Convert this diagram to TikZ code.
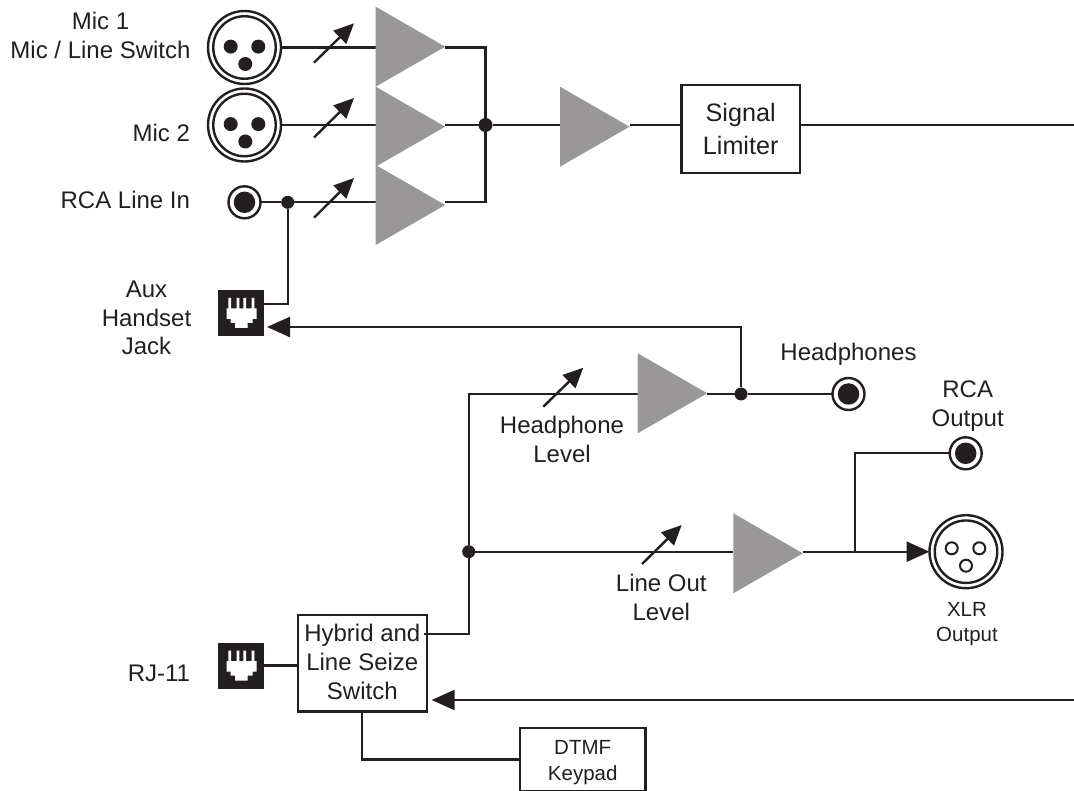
\documentclass[tikz,border=0pt]{standalone}
\usepackage{fontspec}
\setmainfont{Liberation Sans}
\usetikzlibrary{arrows.meta,calc}
\definecolor{ink}{HTML}{231F20}
\definecolor{ampgray}{HTML}{999797}
\tikzset{
  x=1pt,y=-1pt,
  wire/.style={draw=ink,line width=2.4pt},
  lab/.style={text=ink,inner sep=0pt,outer sep=0pt,align=center,anchor=base,font=\fontsize{24}{28.8}\selectfont},
  labr/.style={lab,anchor=base east},
  small/.style={lab,font=\fontsize{20.5}{25}\selectfont},
  dtmflab/.style={lab,font=\fontsize{20.5}{26}\selectfont},
  sigfont/.style={lab,font=\fontsize{25.2}{33}\selectfont},
  boxnode/.style={draw=ink,line width=2.4pt,fill=white,inner sep=0pt,outer sep=0pt,rectangle},
  dotnode/.style={circle,fill=ink,draw=none,inner sep=0pt,outer sep=0pt,minimum size=13pt},
  ring/.style={circle,draw=ink,line width=2.4pt,fill=white,inner sep=0pt,outer sep=0pt},
  inring/.style={circle,draw=ink,line width=2.4pt,inner sep=0pt,minimum size=62.5pt},
  pin/.style={circle,fill=ink,draw=none,inner sep=0pt,minimum size=14pt},
  hpin/.style={circle,draw=ink,line width=2pt,fill=white,inner sep=0pt,minimum size=12pt},
  disk/.style={circle,fill=ink,draw=none,inner sep=0pt,minimum size=21.5pt},
  jackbox/.style={rectangle,fill=ink,draw=none,inner sep=0pt,outer sep=0pt,minimum size=46pt},
  arrowline/.style={wire,-{Triangle[length=23pt,width=20pt]}},
  level/.style={wire,-{Triangle[length=20pt,width=18pt]}},
}
% name, x, mid y, wire y
\newcommand{\ampsym}[4]{%
  \fill[ampgray] (#2,#3-40) -- (#2,#3+40) -- (#2+69.5,#3) -- cycle;
}
% name, x, y
\newcommand{\xlrsolid}[3]{%
  \node[ring,minimum size=73pt] (#1) at (#2,#3) {};
  \node[inring] (#1-i) at (#2,#3) {};
  \node[pin] (#1-a) at ($(#1)+(-13.8,-0.9)$) {};
  \node[pin] (#1-b) at ($(#1)+(13.8,-0.9)$) {};
  \node[pin] (#1-c) at ($(#1)+(0.8,16.5)$) {};
}
\newcommand{\rcasym}[3]{%
  \node[ring,minimum size=32pt] (#1) at (#2,#3) {};
  \node[disk] (#1-d) at (#2,#3) {};
}
% name, centre x, centre y
\newcommand{\jacksym}[3]{%
  \node[jackbox] (#1) at (#2,#3) {};
  \begin{scope}[shift={(#2-23,#3-23)}]
    \fill[white] (10,8) -- (10,18.5) -- (8.3,18.5) -- (8.3,29) -- (12.3,29) -- (12.3,33) -- (16.7,33) -- (16.7,38) -- (29.3,38) -- (29.3,33) -- (34.3,33) -- (34.3,29) -- (38.3,29) -- (38.3,18.5) -- (36,18.5) -- (36,8) -- (33.3,8) -- (33.3,18.5) -- (27.7,18.5) -- (27.7,8) -- (25,8) -- (25,18.5) -- (21,18.5) -- (21,8) -- (18.3,8) -- (18.3,18.5) -- (12.7,18.5) -- (12.7,8) -- cycle;
  \end{scope}
}
\begin{document}
\begin{tikzpicture}
\useasboundingbox (0,0) rectangle (1074,791);

% connector-end coordinates
\coordinate (rightA) at (1074,125);
\coordinate (rightB) at (1074,700);
\coordinate (auxout) at (264.3,304);
\coordinate (auxin) at (267,327);
\coordinate (hybin) at (431.7,700);
\coordinate (hybout) at (424,634);
\coordinate (lv1s) at (314,62.7);   \coordinate (lv1e) at (354,23.3);
\coordinate (lv2s) at (314,137.5);  \coordinate (lv2e) at (354,98);
\coordinate (lv3s) at (314,217.7);  \coordinate (lv3e) at (354,178);
\coordinate (lvHs) at (543.3,406.7);\coordinate (lvHe) at (583.3,367.7);
\coordinate (lvLs) at (642,564);    \coordinate (lvLe) at (681.7,525);

% amplifier anchors (triangles are drawn over the wires below)
\coordinate (A-in) at (375.7,47.5); \coordinate (A-out) at (445.2,47.5);
\coordinate (B-in) at (375.7,125);  \coordinate (B-out) at (445.2,125);
\coordinate (C-in) at (375.7,202.3);\coordinate (C-out) at (445.2,202.3);
\coordinate (D-in) at (560,125);    \coordinate (D-out) at (629.5,125);
\coordinate (H-in) at (637.7,394);  \coordinate (H-out) at (707.2,394);
\coordinate (L-in) at (733.3,551.7);\coordinate (L-out) at (802.8,551.7);

% connectors and jacks
\xlrsolid{mic1}{244.5}{47.5}
\xlrsolid{mic2}{244.5}{125}
\rcasym{rcain}{244.5}{202.3}
\rcasym{hpjack}{848.5}{394}
\rcasym{rcaout}{965.7}{453.3}
\node[ring,minimum size=73pt] (xlrout) at (966,551.7) {};
\node[inring] (xlrout-i) at (966,551.7) {};
\node[hpin] (xlrout-a) at (951.7,548.3) {};
\node[hpin] (xlrout-b) at (979.3,548.3) {};
\node[hpin] (xlrout-c) at (966,565.7) {};
\jacksym{aux}{241.3}{312.8}
\jacksym{rj}{241.3}{665.5}

% boxes
\node[boxnode,minimum width=118.5pt,minimum height=88.5pt] (lim) at (740.8,129) {};
\node[boxnode,minimum width=129pt,minimum height=96.7pt] (hyb) at (362.2,663.3) {};
\node[boxnode,minimum width=125.7pt,minimum height=62.5pt] (dtmf) at (582.8,759.5) {};

% junctions
\node[dotnode] (jrca) at (287.7,202.3) {};
\node[dotnode,minimum size=14pt] (jbus) at (485.5,125) {};
\node[dotnode] (jhp) at (741,394) {};
\node[dotnode] (jsplit) at (468.7,551.7) {};
\coordinate (jbranch) at (855,551.7);

% wires
\draw[wire] (mic1) -- (A-in);
\draw[wire] (mic2) -- (B-in);
\draw[wire] (rcain) -- (jrca);
\draw[wire] (jrca) -- (C-in);
\draw[wire] (jrca) |- (auxout);
\draw[wire] (A-out) -| (jbus);
\draw[wire] (C-out) -| (jbus);
\draw[wire] (B-out) -- (jbus);
\draw[wire] (jbus) -- (D-in);
\draw[wire] (D-out) -- (D-out -| lim.west);
\draw[wire] (rightA -| lim.east) -- (rightA);
\draw[arrowline] (jhp) |- (auxin);
\draw[wire] (hybout) -| (jsplit);
\draw[wire] (jsplit) |- (H-in);
\draw[wire] (jsplit) -- (L-in);
\draw[wire] (H-out) -- (jhp);
\draw[wire] (jhp) -- (hpjack);
\draw[arrowline] (L-out) -- (xlrout);
\draw[wire] (jbranch) |- (rcaout);
\draw[wire] (rj.east) -- (rj.east -| hyb.west);
\draw[arrowline] (rightB) -- (hybin);
\draw[wire] (hyb.south) |- (dtmf.west);

% amplifiers
\ampsym{A}{375.7}{46.7}{47.5}
\ampsym{B}{375.7}{126.7}{125}
\ampsym{C}{375.7}{205}{202.3}
\ampsym{D}{560}{126.7}{125}
\ampsym{H}{637.7}{393.3}{394}
\ampsym{L}{733.3}{553.3}{551.7}

% level arrows
\draw[level] (lv1s) -- (lv1e);
\draw[level] (lv2s) -- (lv2e);
\draw[level] (lv3s) -- (lv3e);
\draw[level] (lvHs) -- (lvHe);
\draw[level] (lvLs) -- (lvLe);

% labels
\node[lab] (tmic1) at (100.5,58.5) {Mic 1\\Mic / Line Switch};
\node[labr] (tmic2) at (190,141.5) {Mic 2};
\node[labr] (trca) at (190,208.5) {RCA Line In};
\node[lab] (taux) at (146.5,355) {Aux\\Handset\\Jack};
\node[labr] (trj) at (190,681) {RJ-11};
\node[lab] (thp) at (848.5,361) {Headphones};
\node[lab] (trcao) at (967.7,426.5) {RCA\\Output};
\node[small] (txlr) at (967,641.7) {XLR\\Output};
\node[lab] (thl) at (562,462.7) {Headphone\\Level};
\node[lab] (tll) at (661.3,620.5) {Line Out\\Level};
\node[sigfont] (tlim) at (740.7,154.5) {Signal\\Limiter};
\node[lab] (thyb) at (362.3,699.3) {Hybrid and\\Line Seize\\Switch};
\node[dtmflab] (tdtmf) at (582.7,780) {DTMF\\Keypad};
\end{tikzpicture}
\end{document}
